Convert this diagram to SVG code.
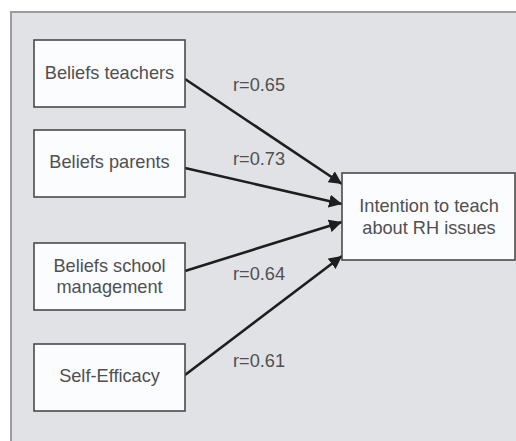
<svg xmlns="http://www.w3.org/2000/svg" width="516" height="441" viewBox="0 0 516 441">
<defs>
<style>
.node rect{fill:#fbfcfe;stroke:#4a4a4a;stroke-width:1.6}
.node text,.lbl{font-family:"Liberation Sans",Arial,sans-serif;font-size:18.2px;fill:#505050;text-anchor:middle}
.lbl{text-anchor:start}
.edge{stroke:#1e1e1e;stroke-width:2.6;fill:none;marker-end:url(#ah)}
</style>
<marker id="ah" viewBox="0 0 10 10" refX="10" refY="5" markerWidth="5" markerHeight="5" orient="auto" markerUnits="strokeWidth">
<path d="M0,0 L10,5 L0,10 z" fill="#1e1e1e"/>
</marker>
</defs>
<rect width="516" height="441" fill="#ffffff"/>
<rect x="11" y="12" width="510" height="435" fill="#e1e2e6" stroke="#9c9ca0" stroke-width="2"/>
<g id="connectors">
<line class="edge" x1="185" y1="79" x2="342" y2="184"/>
<line class="edge" x1="185" y1="168" x2="342" y2="204"/>
<line class="edge" x1="185" y1="271" x2="342" y2="222"/>
<line class="edge" x1="185" y1="375" x2="342" y2="256"/>
<text class="lbl" x="233" y="91">r=0.65</text>
<text class="lbl" x="233" y="165">r=0.73</text>
<text class="lbl" x="233" y="280">r=0.64</text>
<text class="lbl" x="233" y="367">r=0.61</text>
</g>
<g id="n-teachers" class="node"><rect x="34" y="40" width="151" height="67"/><text x="109.5" y="79">Beliefs teachers</text></g>
<g id="n-parents" class="node"><rect x="34" y="130" width="151" height="67"/><text x="109.5" y="168">Beliefs parents</text></g>
<g id="n-school" class="node"><rect x="34" y="243" width="151" height="67"/><text x="109.5" y="272">Beliefs school</text><text x="109.5" y="293">management</text></g>
<g id="n-self" class="node"><rect x="34" y="344" width="151" height="67"/><text x="109.5" y="382">Self-Efficacy</text></g>
<g id="n-intention" class="node"><rect x="342" y="173" width="173" height="87"/><text x="429" y="212">Intention to teach</text><text x="429" y="234">about RH issues</text></g>
</svg>
